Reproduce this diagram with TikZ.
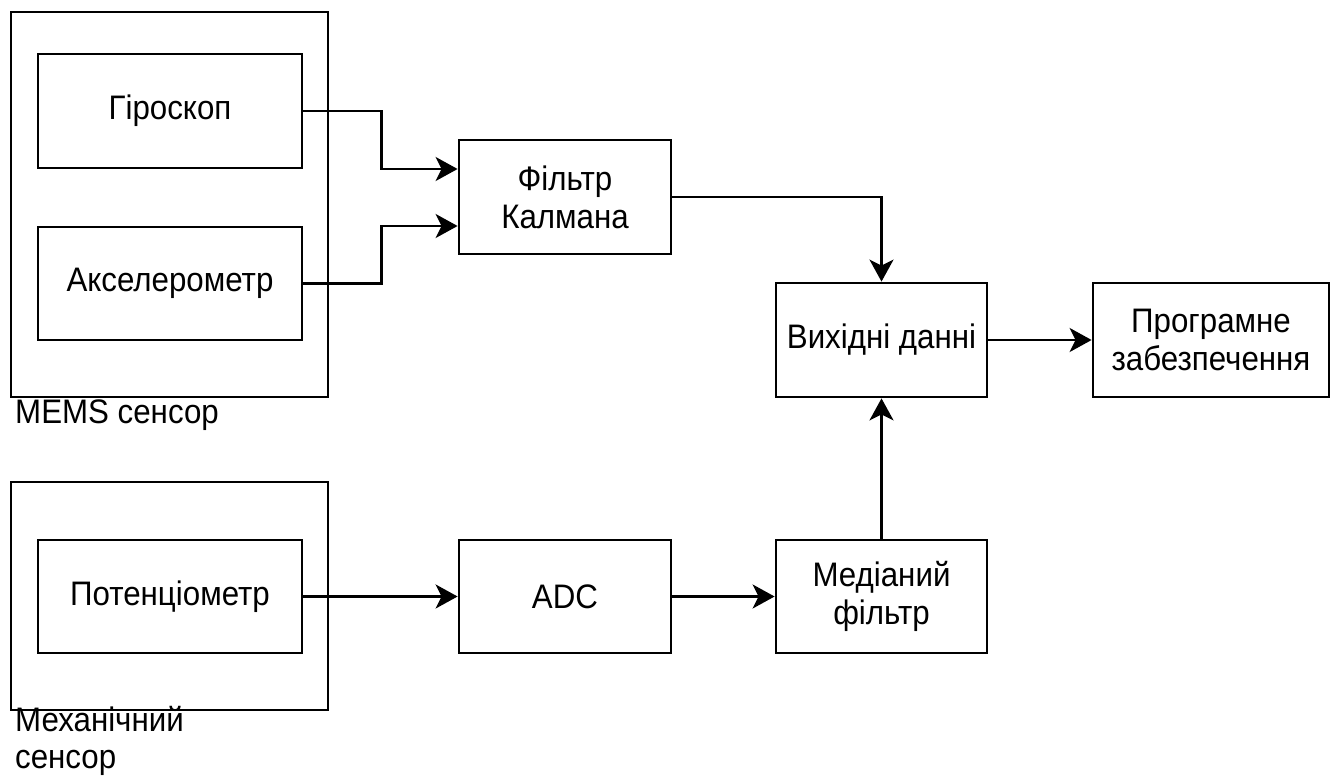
\documentclass[tikz,border=0pt]{standalone}
\usepackage{fontspec}
\setmainfont{Liberation Sans}[FakeStretch=0.92]
\usetikzlibrary{arrows.meta,calc}
\begin{document}
\begin{tikzpicture}[x=1pt,y=-1pt,
  every node/.style={font=\fontsize{34}{38}\selectfont},
  blk/.style={draw,line width=2.8pt,inner sep=0pt,align=center},
  grp/.style={draw,line width=2.8pt,inner sep=0pt},
  lbl/.style={anchor=base west,inner sep=0pt},
  arr/.style={line width=2.8pt,-{Stealth[length=22pt,width=24pt,inset=6pt]}}]
\useasboundingbox (0,0) rectangle (1334,778);
% groups
\node[grp,minimum width=317pt,minimum height=385pt] (mems) at (169.5,204.5) {};
\node[grp,minimum width=317pt,minimum height=228pt] (mech) at (169.5,596) {};
% blocks
\node[blk,minimum width=264pt,minimum height=114pt] (gyro) at (170,111) {Гіроскоп};
\node[blk,minimum width=264pt,minimum height=113pt] (acc) at (170,283.5) {Акселерометр};
\node[blk,minimum width=264pt,minimum height=113pt] (pot) at (170,596.5) {Потенціометр};
\node[blk,minimum width=212pt,minimum height=114pt] (kal) at (565,197) {Фільтр\\Калмана};
\node[blk,minimum width=212pt,minimum height=113pt] (adc) at (565,596.5) {ADC};
\node[blk,minimum width=211pt,minimum height=114pt] (out) at (881.5,340) {Вихідні данні};
\node[blk,minimum width=211pt,minimum height=113pt] (med) at (881.5,596.5) {Медіаний\\фільтр};
\node[blk,minimum width=236pt,minimum height=114pt] (prog) at (1211,340) {Програмне\\забезпечення};
% labels
\node[lbl] (memsl) at (15,423) {MEMS сенсор};
\node[lbl] (mechl1) at (15,731) {Механічний};
\node[lbl] (mechl2) at (15,768) {сенсор};
% connectors
\coordinate (kin1) at ($(kal.west)+(0,-28)$);
\coordinate (kin2) at ($(kal.west)+(0,29)$);
\draw[arr] (gyro.east) -- ++(78,0) |- (kin1);
\draw[arr] (acc.east) -- ++(78,0) |- (kin2);
\draw[arr] (kal.east) -| (out.north);
\draw[arr] (out.east) -- (prog.west);
\draw[arr] (pot.east) -- (adc.west);
\draw[arr] (adc.east) -- (med.west);
\draw[arr] (med.north) -- (out.south);
\end{tikzpicture}
\end{document}
